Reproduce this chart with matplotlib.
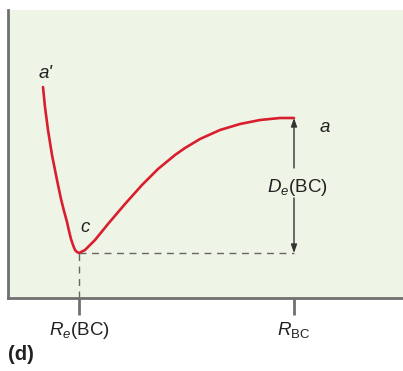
import matplotlib.pyplot as plt

plt.rcParams['font.family'] = ['Liberation Sans', 'DejaVu Sans']
plt.rcParams['mathtext.fontset'] = 'custom'
plt.rcParams['mathtext.rm'] = 'Liberation Sans'
plt.rcParams['mathtext.it'] = 'Liberation Sans:italic'
plt.rcParams['mathtext.bf'] = 'Liberation Sans:bold'

# potential curve (x = bond distance, y = energy)
r_vals = [43, 45, 48, 52, 57, 61, 64, 67, 69, 71, 73, 75, 77, 79, 81, 85, 95,
          108, 125, 142, 158, 175, 185, 200, 220, 240, 260, 280, 294]
e_vals = [211, 191, 168, 143, 118, 99, 87, 76, 67, 59, 53, 48, 46, 45, 46, 48, 58,
          74, 94, 113, 129, 143, 150, 159, 168, 174, 178, 180, 180]

r_min, e_min = 79, 45
r_bc, e_top = 294, 180
tick_pos = [r_min, r_bc]
tick_labels = ['$R_e$(BC)', '$R_{\\mathrm{BC}}$']

fs = 13.5
fig = plt.figure(figsize=(4.03, 3.71), dpi=100)
ax = fig.add_axes([8 / 403, 73 / 371, 395 / 403, 288 / 371])
ax.set_facecolor('#eef5e7')
ax.set_xlim(8, 403)
ax.set_ylim(0, 288)

ax.plot(r_vals, e_vals, color='#d91e2e', lw=1.9, solid_capstyle='round',
        solid_joinstyle='round', zorder=3)

# dashed guides
ax.plot([r_min, r_bc], [e_min, e_min], color='#666666', lw=1.0, ls=(0, (5, 4)))
ax.plot([r_min, r_min], [0, e_min], color='#666666', lw=1.0, ls=(0, (5, 4)))

# D_e arrow split around the label
arr = dict(arrowstyle='-|>,head_length=0.5,head_width=0.18', color='#333333', lw=1.0,
           shrinkA=0, shrinkB=0)
ax.annotate('', xy=(r_bc, e_top), xytext=(r_bc, 130), arrowprops=arr)
ax.annotate('', xy=(r_bc, e_min), xytext=(r_bc, 100), arrowprops=arr)
ax.text(r_bc + 3, 111, '$D_e$(BC)', ha='center', va='center', fontsize=fs,
        color='#222222')

ax.text(46, 225, "a'", ha='center', va='center', fontsize=fs, style='italic',
        color='#222222')
ax.text(85, 70, 'c', ha='center', va='center', fontsize=fs, style='italic',
        color='#222222')
ax.text(325, 171, 'a', ha='center', va='center', fontsize=fs, style='italic',
        color='#222222')

for s in ['top', 'right']:
    ax.spines[s].set_visible(False)
for s in ['left', 'bottom']:
    ax.spines[s].set_color('#707070')
    ax.spines[s].set_linewidth(2.0)

ax.set_yticks([])
ax.set_xticks(tick_pos)
ax.set_xticklabels(tick_labels, fontsize=fs, color='#222222')
ax.tick_params(axis='x', length=12, width=2.0, color='#707070', pad=4)

fig.text(21 / 403, 1 - 355 / 371, '(d)', fontsize=14.5, fontweight='bold',
         ha='center', va='center', color='#222222')

fig.savefig('out.png', dpi=100)
